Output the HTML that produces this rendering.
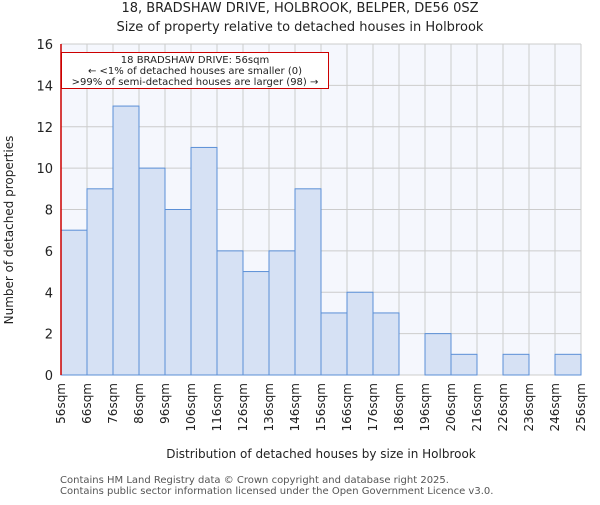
<!DOCTYPE html>
<html><head><meta charset="utf-8"><style>
body{margin:0;background:#fff;}
svg text{font-family:"DejaVu Sans","Liberation Sans",sans-serif;fill:#222;}
</style></head><body>
<svg width="600" height="500" viewBox="0 0 600 500">
<text x="300" y="12" text-anchor="middle" font-size="13">18, BRADSHAW DRIVE, HOLBROOK, BELPER, DE56 0SZ</text>
<text x="300" y="31" text-anchor="middle" font-size="13">Size of property relative to detached houses in Holbrook</text>
<rect x="61" y="44" width="520" height="331" fill="#f5f7fd"/>
<g id="grid"></g>
<g id="bars"></g>
<g id="axes"></g>
<line x1="61" y1="44" x2="61" y2="375" stroke="#c00" stroke-width="1.5"/>
<rect x="61.5" y="52.5" width="267" height="36" fill="#fff" stroke="#c00"/>
<text x="195" y="63" text-anchor="middle" font-size="10">18 BRADSHAW DRIVE: 56sqm</text>
<text x="195" y="74" text-anchor="middle" font-size="10">← &lt;1% of detached houses are smaller (0)</text>
<text x="195" y="85" text-anchor="middle" font-size="10">&gt;99% of semi-detached houses are larger (98) →</text>
<text transform="translate(13,230) rotate(-90)" text-anchor="middle" font-size="12">Number of detached properties</text>
<text x="321" y="458" text-anchor="middle" font-size="12">Distribution of detached houses by size in Holbrook</text>
<text x="60" y="483" font-size="10" fill="#555" style="fill:#555">Contains HM Land Registry data © Crown copyright and database right 2025.</text>
<text x="60" y="494" font-size="10" style="fill:#555">Contains public sector information licensed under the Open Government Licence v3.0.</text>
</svg>
<script>
const binLabels=["56sqm","66sqm","76sqm","86sqm","96sqm","106sqm","116sqm","126sqm","136sqm","146sqm","156sqm","166sqm","176sqm","186sqm","196sqm","206sqm","216sqm","226sqm","236sqm","246sqm","256sqm"];
const counts=[7,9,13,10,8,11,6,5,6,9,3,4,3,0,2,1,0,1,0,1];
const yTicks=[0,2,4,6,8,10,12,14,16];
const NS="http://www.w3.org/2000/svg";
const X0=61,X1=581,Y0=375,Y1=44,YMAX=16;
const bw=(X1-X0)/counts.length;
const xs=i=>X0+i*bw;
const ys=v=>Y0-(v/YMAX)*(Y0-Y1);
function mk(t,a,p){const e=document.createElementNS(NS,t);for(const k in a)e.setAttribute(k,a[k]);p.appendChild(e);return e;}
const grid=document.getElementById('grid'),bars=document.getElementById('bars'),axes=document.getElementById('axes');
yTicks.forEach(v=>{
 const l=mk('line',{x1:X0,x2:X1,y1:ys(v),y2:ys(v),stroke:'#ccc'},grid);
 
 
 const t=mk('text',{x:X0-8,y:ys(v)+5,'text-anchor':'end','font-size':'13'},axes);
 t.textContent=v;
 
 
});
binLabels.forEach((s,i)=>{
 const x=xs(i);
 const l=mk('line',{x1:x,x2:x,y1:Y1,y2:Y0,stroke:'#ccc'},grid);
 
 
 const t=mk('text',{transform:`translate(${x+4},${Y0+8}) rotate(-90)`,'text-anchor':'end','font-size':'12'},axes);
 t.textContent=s;
 
 
});
counts.forEach((v,i)=>{
 if(v<=0)return;
 const r=mk('rect',{x:xs(i),y:ys(v),width:bw,height:Y0-ys(v),fill:'#d6e1f4',stroke:'#5b8fd6','stroke-width':'1'},bars);
 
 
});
</script>
</body></html>
